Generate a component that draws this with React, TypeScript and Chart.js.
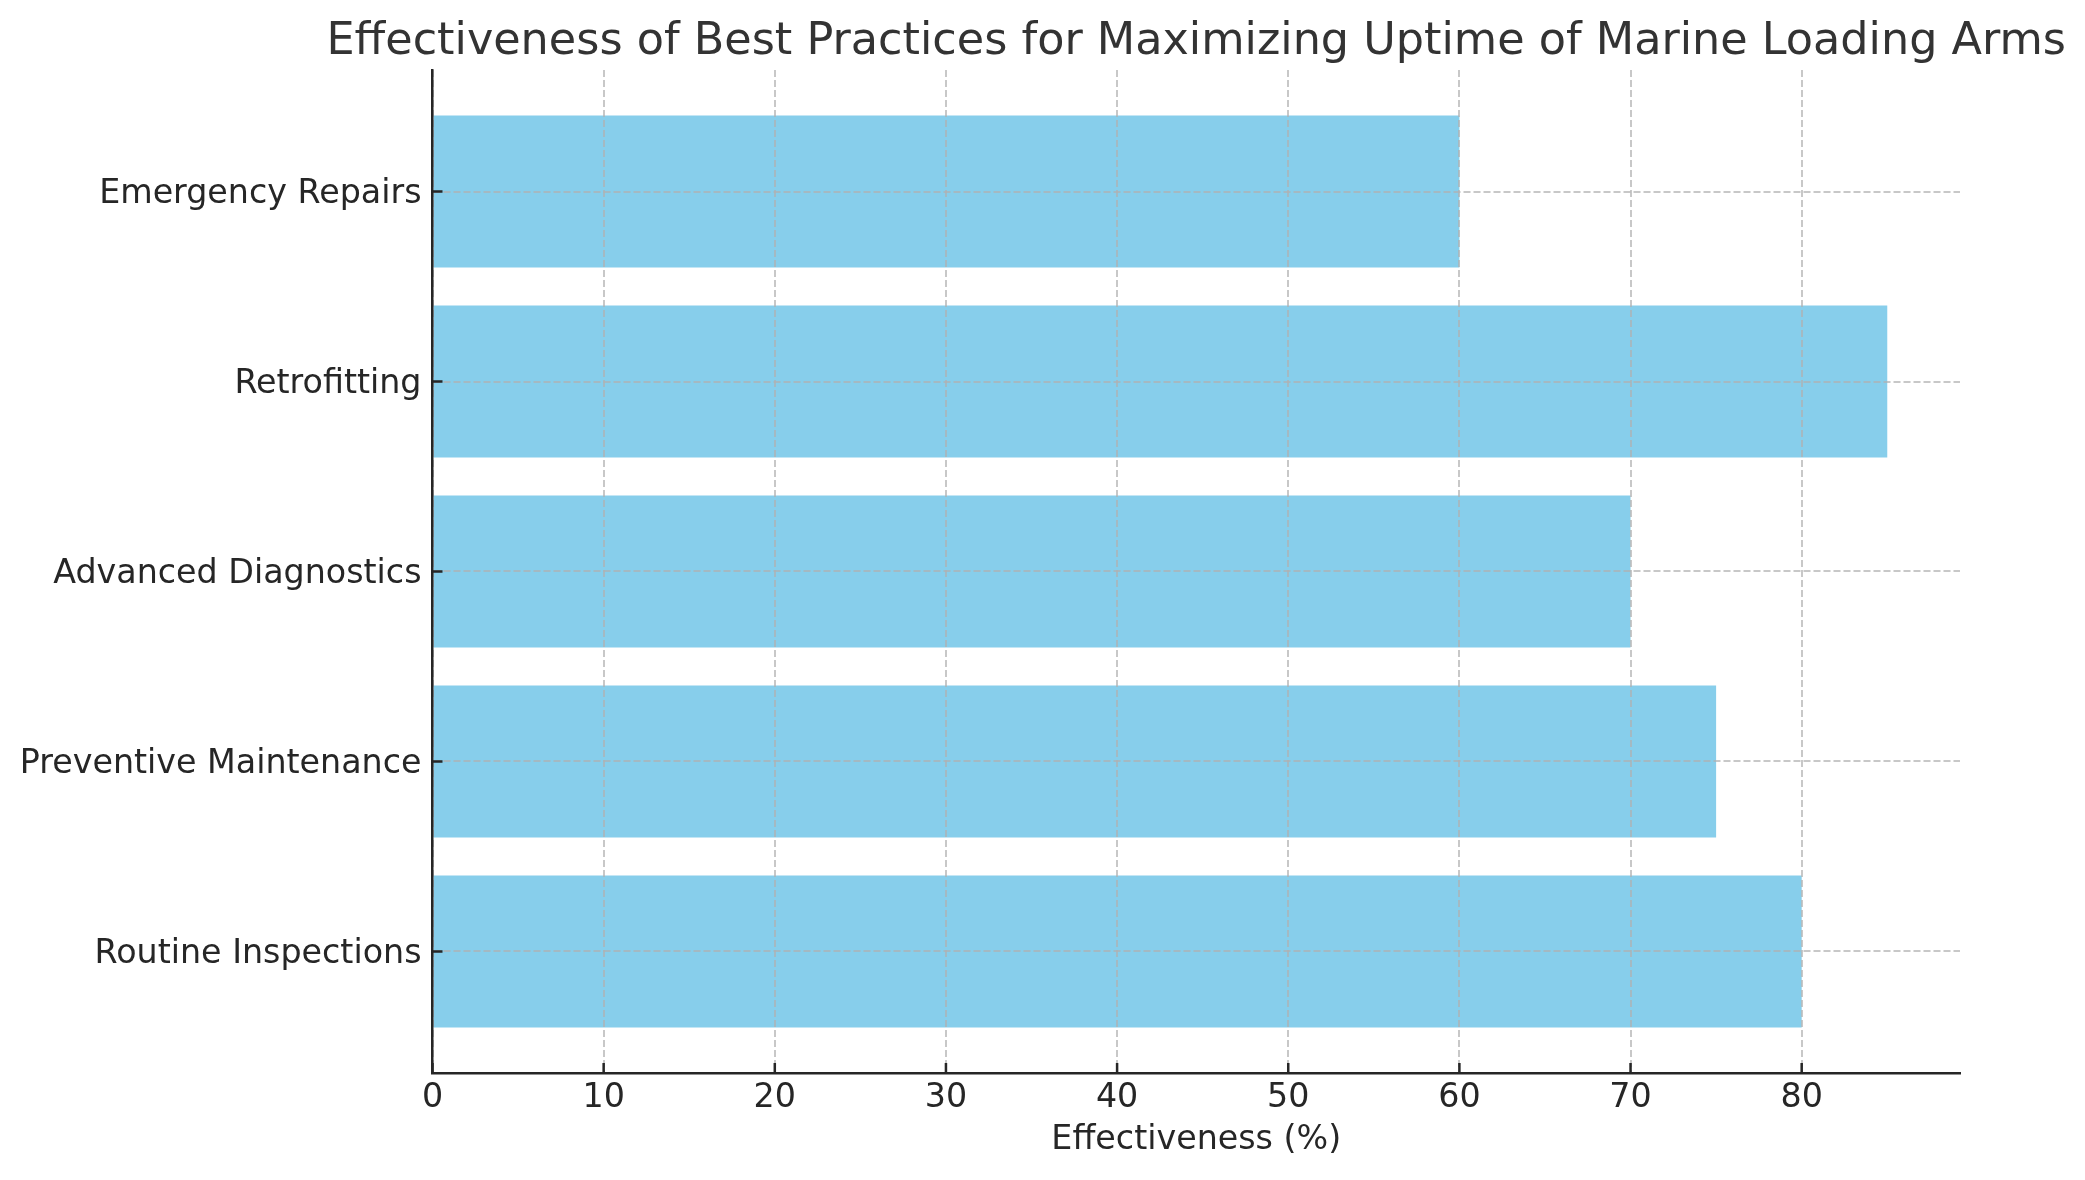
import React, { useEffect, useRef } from "react";
import { Chart, registerables } from "chart.js";

Chart.register(...registerables);

const categories = [
  "Routine Inspections",
  "Preventive Maintenance",
  "Advanced Diagnostics",
  "Retrofitting",
  "Emergency Repairs",
];
const effectiveness = [80, 75, 70, 85, 60];
const xTicks = [0, 10, 20, 30, 40, 50, 60, 70, 80];
const titleText =
  "Effectiveness of Best Practices for Maximizing Uptime of Marine Loading Arms";
const xLabel = "Effectiveness (%)";

const W = 2085;
const H = 1180;
const FONT = "DejaVu Sans";
const AXIS_COLOR = "#262626";
const GRID_COLOR = "rgba(176,176,176,0.7)";
const LABEL_SIZE = 33.3;

export default function App() {
  const ref = useRef<HTMLCanvasElement>(null);

  useEffect(() => {
    const canvas = ref.current;
    if (!canvas) return;

    const titlePlugin = {
      id: "mplTitle",
      afterDraw(chart: any) {
        const { ctx, chartArea } = chart;
        ctx.save();
        ctx.font = `44.5px "${FONT}"`;
        ctx.fillStyle = "#333333";
        ctx.textAlign = "center";
        ctx.textBaseline = "alphabetic";
        ctx.fillText(titleText, (chartArea.left + chartArea.right) / 2, 54);
        ctx.restore();
      },
    };

    const inwardTicks = {
      id: "inwardTicks",
      afterDraw(chart: any) {
        const { ctx, chartArea, scales } = chart;
        ctx.save();
        ctx.strokeStyle = AXIS_COLOR;
        ctx.lineWidth = 2.5;
        ctx.beginPath();
        for (const v of xTicks) {
          const px = scales.x.getPixelForValue(v);
          ctx.moveTo(px, chartArea.bottom);
          ctx.lineTo(px, chartArea.bottom - 10);
        }
        categories.forEach((_, i) => {
          const py = scales.y.getPixelForValue(i);
          ctx.moveTo(chartArea.left, py);
          ctx.lineTo(chartArea.left + 10, py);
        });
        ctx.stroke();
        ctx.restore();
      },
    };

    Chart.defaults.font.family = FONT;

    const chart = new Chart(canvas, {
      type: "bar",
      data: {
        datasets: [
          {
            data: effectiveness.map((v, i) => ({ x: v, y: i })) as any,
            backgroundColor: "#87CEEB",
            borderWidth: 0,
            barPercentage: 0.8,
            categoryPercentage: 1.0,
          },
        ],
      },
      options: {
        indexAxis: "y",
        animation: false,
        responsive: false,
        devicePixelRatio: 1,
        layout: {
          padding: { top: 70, right: 125, left: 0, bottom: 0 },
        },
        plugins: {
          legend: { display: false },
          tooltip: { enabled: false },
          title: { display: false },
        },
        scales: {
          x: {
            type: "linear",
            position: "bottom",
            min: 0,
            max: 89.25,
            offset: false,
            afterBuildTicks: (s: any) => {
              s.ticks = xTicks.map((v) => ({ value: v }));
            },
            afterFit: (s: any) => {
              s.height = H - 1073;
            },
            grid: {
              color: GRID_COLOR,
              lineWidth: 2,
              drawTicks: false,
              offset: false,
              z: 1,
            },
            border: {
              display: true,
              color: AXIS_COLOR,
              width: 2.5,
              dash: [7, 3],
              z: 2,
            },
            ticks: {
              color: AXIS_COLOR,
              font: { size: LABEL_SIZE, family: FONT },
              padding: 5,
              maxRotation: 0,
              callback: (v: any) => String(v),
            },
            title: {
              display: true,
              text: xLabel,
              color: AXIS_COLOR,
              font: { size: LABEL_SIZE, family: FONT },
              padding: { top: 0, bottom: 20 },
            },
          },
          y: {
            type: "linear",
            position: "left",
            min: -0.64,
            max: 4.64,
            offset: false,
            afterBuildTicks: (s: any) => {
              s.ticks = categories.map((_, i) => ({ value: i }));
            },
            afterFit: (s: any) => {
              s.width = 432.5;
            },
            grid: {
              color: GRID_COLOR,
              lineWidth: 2,
              drawTicks: false,
              offset: false,
              z: 1,
            },
            border: {
              display: true,
              color: AXIS_COLOR,
              width: 2.5,
              dash: [7, 3],
              z: 2,
            },
            ticks: {
              color: AXIS_COLOR,
              font: { size: LABEL_SIZE, family: FONT },
              padding: 11,
              labelOffset: 3,
              callback: (v: any) => categories[Math.round(Number(v))] ?? "",
            },
          },
        },
      },
      plugins: [titlePlugin, inwardTicks],
    } as any);

    return () => {
      chart.destroy();
    };
  }, []);

  return (
    <div
      style={{
        position: "absolute",
        left: 0,
        top: 0,
        width: W,
        height: H,
        background: "#ffffff",
      }}
    >
      <canvas ref={ref} width={W} height={H} style={{ display: "block", width: W, height: H }} />
    </div>
  );
}
